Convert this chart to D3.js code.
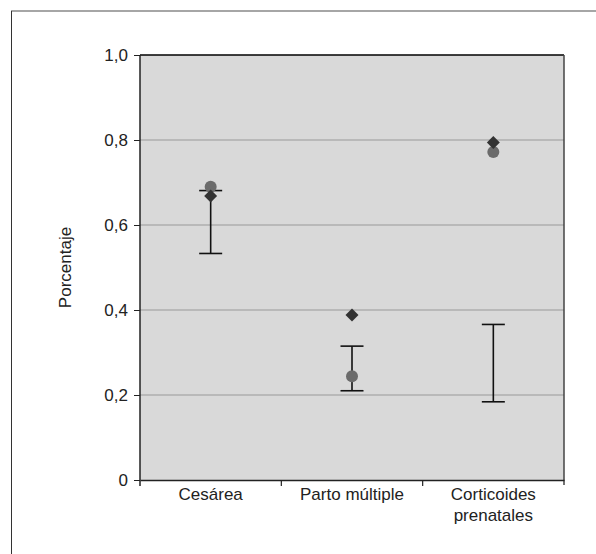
<!DOCTYPE html>
<html>
<head>
<meta charset="utf-8">
<style>
  body { margin: 0; background: #fff; font-family: "Liberation Sans", Arial, sans-serif; }
  svg text { fill: #222; }
</style>
</head>
<body>
<div id="chart"></div>
<script src="https://d3js.org/d3.v7.min.js"></script>
<script>
// categories and values
const categories = ["Cesárea", "Parto múltiple", "Corticoides prenatales"];
const circleValues = [0.69, 0.244, 0.772];
const diamondValues = [0.668, 0.388, 0.794];
const errLow = [0.533, 0.21, 0.184];
const errHigh = [0.681, 0.315, 0.366];
const yTicks = [0, 0.2, 0.4, 0.6, 0.8, 1.0];

const W = 596, H = 554;
const plot = { left: 140, top: 55, right: 564, bottom: 480 };
const fontSize = 17;

const svg = d3.select("#chart").append("svg")
  .attr("width", W).attr("height", H);

// outer frame
svg.append("line").attr("x1", 11).attr("x2", W).attr("y1", 11).attr("y2", 11)
  .attr("stroke", "#888").attr("stroke-width", 1.5);
svg.append("line").attr("x1", 11.5).attr("x2", 11.5).attr("y1", 11).attr("y2", H)
  .attr("stroke", "#333").attr("stroke-width", 1);

const x = d3.scaleBand().domain(categories).range([plot.left, plot.right]);
const y = d3.scaleLinear().domain([0, 1]).range([plot.bottom, plot.top]);

// plot background
svg.append("rect")
  .attr("x", plot.left).attr("y", plot.top)
  .attr("width", plot.right - plot.left).attr("height", plot.bottom - plot.top)
  .attr("fill", "#d9d9d9");

// gridlines
svg.selectAll(".grid").data(yTicks.filter(d => d > 0 && d < 1)).enter()
  .append("line").attr("class", "grid")
  .attr("x1", plot.left).attr("x2", plot.right)
  .attr("y1", d => y(d)).attr("y2", d => y(d))
  .attr("stroke", "#999").attr("stroke-width", 1);

// top and right border
svg.append("line").attr("x1", plot.left).attr("x2", plot.right)
  .attr("y1", plot.top).attr("y2", plot.top).attr("stroke", "#000").attr("stroke-width", 1.5);
svg.append("line").attr("x1", plot.right).attr("x2", plot.right)
  .attr("y1", plot.top).attr("y2", plot.bottom + 5).attr("stroke", "#444").attr("stroke-width", 1.5);

// y axis
const yAxis = svg.append("g")
  .attr("transform", `translate(${plot.left},0)`)
  .call(d3.axisLeft(y).tickValues(yTicks).tickSize(6).tickPadding(6)
    .tickFormat(d => d === 0 ? "0" : d3.format(".1f")(d).replace(".", ",")));
yAxis.select(".domain").attr("d", `M0,${plot.top}V${plot.bottom + 6}`).attr("stroke", "#222").attr("stroke-width", 1.5);
yAxis.selectAll(".tick line").attr("stroke", "#222");
yAxis.selectAll("text").attr("font-size", fontSize).attr("fill", "#222")
  .attr("font-family", "'Liberation Sans', Arial, sans-serif");

// x axis
const xAxis = svg.append("g")
  .attr("transform", `translate(0,${plot.bottom})`)
  .call(d3.axisBottom(x).tickSize(0).tickPadding(9).tickFormat(""));
xAxis.select(".domain").attr("stroke", "#222").attr("stroke-width", 1.5);
svg.selectAll(".xtick").data(categories.slice(1)).enter()
  .append("line").attr("class", "xtick")
  .attr("x1", d => x(d)).attr("x2", d => x(d))
  .attr("y1", plot.bottom).attr("y2", plot.bottom + 6)
  .attr("stroke", "#222").attr("stroke-width", 1.2);

// category labels (wrapped)
const labelLines = { "Corticoides prenatales": ["Corticoides", "prenatales"] };
categories.forEach(c => {
  const lines = labelLines[c] || [c];
  const t = svg.append("text")
    .attr("x", x(c) + x.bandwidth() / 2).attr("y", 500)
    .attr("text-anchor", "middle").attr("font-size", fontSize);
  lines.forEach((l, i) => t.append("tspan")
    .attr("x", x(c) + x.bandwidth() / 2).attr("dy", i === 0 ? 0 : 21).text(l));
});

// y axis title
svg.append("text")
  .attr("transform", `translate(71,${(plot.top + plot.bottom) / 2}) rotate(-90)`)
  .attr("text-anchor", "middle").attr("font-size", fontSize)
  .text("Porcentaje");

// error bars
const cx = i => x(categories[i]) + x.bandwidth() / 2;
const capW = 11.5;
categories.forEach((c, i) => {
  const g = svg.append("g").attr("stroke", "#111").attr("stroke-width", 1.6);
  g.append("line").attr("x1", cx(i)).attr("x2", cx(i))
    .attr("y1", y(errLow[i])).attr("y2", y(errHigh[i]));
  [errLow[i], errHigh[i]].forEach(v => g.append("line")
    .attr("x1", cx(i) - capW).attr("x2", cx(i) + capW)
    .attr("y1", y(v)).attr("y2", y(v)));
});

// circles
svg.selectAll(".dot").data(circleValues).enter()
  .append("circle").attr("class", "dot")
  .attr("cx", (d, i) => cx(i)).attr("cy", d => y(d)).attr("r", 6)
  .attr("fill", "#6b6b6b");

// diamonds
const diamond = d3.symbol().type(d3.symbolSquare).size(84);
svg.selectAll(".dia").data(diamondValues).enter()
  .append("path").attr("class", "dia")
  .attr("d", diamond)
  .attr("transform", (d, i) => `translate(${cx(i)},${y(d)}) rotate(45)`)
  .attr("fill", "#333");
</script>
</body>
</html>
